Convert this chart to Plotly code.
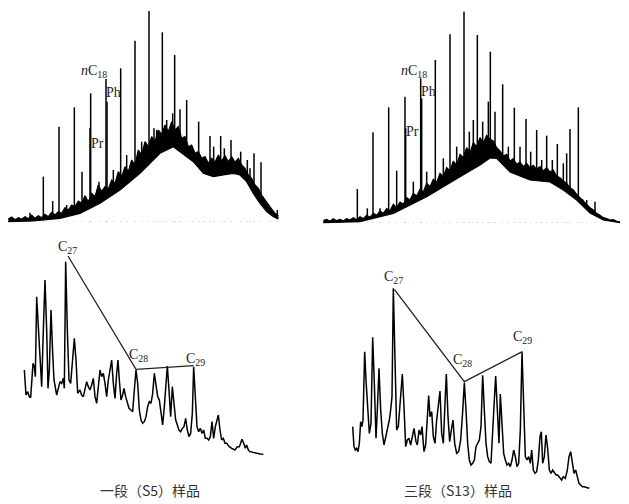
import plotly.graph_objects as go

# ---------------- Top-left: whole-oil GC, 一段 (S5) ----------------
tl_peak_x = [40, 90, 130, 158, 177, 200, 223, 246, 270, 272, 297, 318, 321, 340, 362, 380, 405, 425,
             447, 462, 470, 487, 500, 518, 524, 540, 560, 578, 596, 612, 630, 641, 662, 673, 693, 722,
             742, 750, 762, 783, 810, 832]
tl_peak_h = [10, 27, 135, 62, 285, 50, 343, 150, 280, 385, 120, 428, 360, 155, 460, 200, 543, 240,
             632, 280, 275, 568, 305, 325, 500, 337, 365, 210, 300, 190, 257, 225, 257, 220, 245, 210,
             185, 160, 205, 178, 40, 35]
tl_low_x = [25, 100, 180, 240, 300, 360, 420, 480, 520, 580, 610, 640, 670, 700, 720, 740, 760, 780,
            800, 820, 835]
tl_low_y = [0, 2, 10, 25, 55, 95, 145, 205, 225, 180, 145, 135, 140, 145, 140, 120, 85, 55, 30, 15, 8]
tl_up_x = [25, 35, 45, 55, 65, 75, 85, 95, 105, 115, 125, 135, 145, 155, 165, 175, 185, 195, 205, 215,
           225, 235, 245, 255, 265, 275, 285, 295, 305, 315, 325, 335, 345, 355, 365, 375, 385, 395,
           405, 415, 425, 435, 445, 455, 465, 475, 485, 495, 505, 515, 525, 535, 545, 555, 565, 575,
           585, 595, 605, 615, 625, 635, 645, 655, 665, 675, 685, 695, 705, 715, 725, 735, 745, 755,
           765, 775, 785, 795, 805, 815, 825, 835]
tl_up_y = [8, 14, 6, 12, 7, 15, 9, 20, 10, 18, 12, 22, 15, 28, 20, 30, 25, 42, 35, 50,
           45, 62, 55, 78, 60, 85, 75, 110, 90, 105, 98, 125, 115, 150, 135, 165, 150, 185,
           170, 215, 200, 240, 225, 255, 240, 275, 262, 290, 270, 300, 275, 285, 250, 255, 225, 230,
           205, 210, 190, 195, 175, 190, 178, 200, 182, 198, 180, 195, 178, 190, 170, 160, 140, 130,
           110, 100, 80, 65, 50, 38, 25, 18]

# ---------------- Top-right: whole-oil GC, 三段 (S13) ----------------
tr_peak_x = [172, 202, 219, 240, 266, 290, 315, 317, 340, 362, 365, 380, 406, 430, 450, 470, 492, 508,
             520, 532, 548, 565, 571, 585, 608, 625, 643, 660, 678, 692, 710, 725, 740, 757, 772, 790,
             800, 810, 835, 848, 860, 885]
tr_peak_h = [101, 43, 271, 43, 346, 156, 378, 283, 123, 433, 373, 153, 488, 193, 565, 228, 633, 273,
             308, 563, 303, 363, 513, 333, 415, 228, 345, 228, 311, 213, 278, 188, 261, 188, 236, 178,
             208, 281, 346, 70, 68, 63]
tr_low_x = [70, 180, 280, 380, 480, 540, 570, 590, 630, 690, 750, 790, 830, 870, 910, 960]
tr_low_y = [0, 3, 28, 78, 138, 173, 194, 193, 152, 128, 122, 98, 68, 29, 8, 0]
tr_up_x = [70, 80, 90, 100, 110, 120, 130, 140, 150, 160, 170, 180, 190, 200, 210, 220, 230, 240, 250,
           260, 270, 280, 290, 300, 310, 320, 330, 340, 350, 360, 370, 380, 390, 400, 410, 420, 430,
           440, 450, 460, 470, 480, 490, 500, 510, 520, 530, 540, 550, 560, 570, 580, 590, 600, 610,
           620, 630, 640, 650, 660, 670, 680, 690, 700, 710, 720, 730, 740, 750, 760, 770, 780, 790,
           800, 810, 820, 830, 840, 850, 860, 870, 880, 890, 900, 910, 920, 930, 940, 950, 960]
tr_up_y = [6, 10, 4, 12, 6, 10, 5, 12, 8, 15, 9, 18, 12, 22, 16, 28, 22, 35, 28,
           42, 36, 55, 45, 62, 55, 75, 68, 88, 80, 100, 92, 118, 108, 130, 120, 148, 138,
           165, 155, 185, 172, 205, 195, 225, 210, 240, 228, 255, 240, 262, 250, 245, 225, 215, 200,
           205, 185, 192, 175, 182, 168, 178, 165, 172, 160, 168, 155, 165, 152, 158, 140, 135, 125,
           118, 105, 98, 85, 75, 62, 55, 45, 38, 28, 22, 15, 12, 8, 9, 4, 3]

# ---------------- Bottom-left: sterane m/z 217, 一段 (S5) ----------------
bl_x = [73, 78, 83, 88, 92, 96, 99, 103, 106, 110, 115, 120, 125, 130, 135, 140, 144, 148, 153, 158,
        162, 170, 175, 180, 185, 190, 193, 197, 202, 207, 212, 218, 223, 228, 233, 240, 245, 250, 255,
        260, 265, 270, 275, 280, 285, 290, 295, 300, 305, 310, 315, 320, 325, 330, 335, 340, 345, 350,
        354, 358, 363, 368, 372, 377, 382, 387, 393, 398, 403, 408, 413, 418, 423, 428, 433, 438, 443,
        448, 453, 458, 463, 468, 473, 478, 483, 488, 493, 498, 502, 507, 512, 517, 522, 527, 532, 537,
        542, 547, 552, 557, 562, 567, 572, 577, 581, 586, 591, 596, 601, 606, 611, 616, 621, 626, 631,
        636, 641, 646, 651, 655, 660, 665, 670, 675, 680, 688, 695, 705, 712, 718, 722, 726, 731, 736,
        740, 745, 750, 760, 770, 780, 790]
bl_y = [300, 225, 235, 220, 217, 280, 320, 310, 280, 520, 420, 330, 250, 420, 570, 420, 245, 300, 480,
        350, 270, 225, 250, 265, 260, 275, 245, 625, 420, 270, 260, 340, 395, 330, 230, 240, 225, 220,
        240, 265, 250, 240, 255, 275, 220, 200, 250, 300, 280, 290, 260, 220, 270, 300, 330, 260, 215,
        290, 330, 270, 210, 225, 245, 220, 200, 185, 180, 175, 240, 300, 260, 180, 150, 140, 145, 160,
        190, 205, 200, 230, 290, 260, 220, 210, 170, 135, 190, 270, 312, 240, 160, 250, 200, 150, 135,
        120, 115, 125, 130, 155, 120, 100, 110, 170, 310, 220, 130, 115, 125, 110, 120, 95, 95, 90, 100,
        145, 95, 130, 150, 165, 120, 90, 95, 80, 80, 70, 65, 60, 70, 70, 80, 92, 80, 65, 75, 60, 55, 52,
        50, 48, 47]
bl_ster_x = [204, 408, 581]          # C27, C28, C29 apex positions
bl_ster_y = [642, 302, 313]

# ---------------- Bottom-right: sterane m/z 217, 三段 (S13) ----------------
br_x = [68, 72, 76, 80, 84, 88, 92, 96, 99, 104, 108, 113, 118, 123, 128, 133, 138, 142, 147, 152,
        157, 162, 168, 173, 178, 182, 186, 190, 195, 200, 205, 210, 217, 222, 227, 232, 237, 242, 247,
        252, 258, 262, 267, 272, 276, 282, 287, 292, 296, 300, 305, 310, 315, 320, 325, 330, 335, 340,
        345, 349, 354, 359, 364, 369, 374, 380, 386, 392, 398, 403, 408, 413, 418, 423, 428, 433, 438,
        443, 448, 453, 458, 463, 468, 473, 478, 483, 488, 493, 497, 502, 507, 511, 516, 521, 526, 531,
        536, 541, 546, 551, 556, 561, 566, 571, 576, 581, 586, 591, 596, 601, 605, 610, 615, 620, 625,
        630, 634, 638, 643, 648, 653, 658, 663, 668, 673, 678, 683, 688, 695, 700, 706, 712, 717, 722,
        727, 732, 737, 742, 747, 752, 757, 762, 770, 778]
br_y = [190, 130, 120, 125, 115, 140, 205, 190, 210, 415, 330, 240, 170, 200, 458, 320, 155, 240, 365,
        240, 170, 135, 160, 190, 210, 240, 280, 605, 360, 180, 190, 270, 348, 250, 130, 150, 155, 135,
        160, 185, 145, 135, 180, 165, 190, 115, 135, 220, 283, 220, 235, 160, 140, 210, 250, 297, 170,
        140, 260, 348, 220, 145, 180, 210, 140, 110, 115, 150, 235, 322, 240, 140, 90, 75, 80, 90, 130,
        140, 150, 190, 344, 240, 140, 100, 85, 80, 160, 270, 342, 220, 140, 288, 200, 110, 90, 75, 80,
        70, 90, 120, 100, 70, 80, 180, 415, 220, 100, 90, 100, 80, 120, 60, 50, 55, 90, 160, 175, 80,
        100, 165, 125, 60, 50, 60, 50, 45, 45, 40, 30, 40, 35, 60, 100, 115, 80, 50, 60, 35, 20, 15, 10,
        10, 8, 5]
br_ster_x = [193, 403, 577]
br_ster_y = [602, 325, 415]

captions = ["一段（S5）样品", "三段（S13）样品"]
ster_labels = ["C<sub>27</sub>", "C<sub>28</sub>", "C<sub>29</sub>"]

W, H = 629, 504
fig = go.Figure()

def ax_dom(x0, x1, y0, y1):
    return [x0 / W, x1 / W], [1 - y1 / H, 1 - y0 / H]

panels = {
    1: dict(px=(0, 290), py=(0, 225), xr=[0, 870], yr=[-10, 665]),
    2: dict(px=(300, 629), py=(0, 225), xr=[0, 987], yr=[-7, 668]),
    3: dict(px=(0, 290), py=(230, 470), xr=[0, 870], yr=[0, 720]),
    4: dict(px=(330, 629), py=(230, 490), xr=[0, 897], yr=[0, 780]),
}
for i, p in panels.items():
    dx, dy = ax_dom(p["px"][0], p["px"][1], p["py"][0], p["py"][1])
    sfx = "" if i == 1 else str(i)
    fig.update_layout(**{
        "xaxis" + sfx: dict(domain=dx, range=p["xr"], visible=False, fixedrange=True,
                            anchor="y" + sfx),
        "yaxis" + sfx: dict(domain=dy, range=p["yr"], visible=False, fixedrange=True,
                            anchor="x" + sfx),
    })

def gc_panel(idx, px, ph, lx, ly, ux, uy):
    xa = "x" if idx == 1 else "x%d" % idx
    ya = "y" if idx == 1 else "y%d" % idx
    sx, sy = [], []
    for x, h in zip(px, ph):
        sx += [x, x, None]
        sy += [0, h, None]
    fig.add_trace(go.Scatter(x=sx, y=sy, mode="lines", line=dict(color="black", width=1.5),
                             xaxis=xa, yaxis=ya, hoverinfo="skip", showlegend=False))
    fig.add_trace(go.Scatter(x=lx, y=ly, mode="lines", line=dict(color="black", width=1.2),
                             fill="tozeroy", fillcolor="white",
                             xaxis=xa, yaxis=ya, hoverinfo="skip", showlegend=False))
    fig.add_trace(go.Scatter(x=ux, y=uy, mode="lines", line=dict(color="black", width=1.2),
                             fill="tonexty", fillcolor="black",
                             xaxis=xa, yaxis=ya, hoverinfo="skip", showlegend=False))

gc_panel(1, tl_peak_x, tl_peak_h, tl_low_x, tl_low_y, tl_up_x, tl_up_y)
gc_panel(2, tr_peak_x, tr_peak_h, tr_low_x, tr_low_y, tr_up_x, tr_up_y)

def ster_panel(idx, x, y, sx, sy):
    xa, ya = "x%d" % idx, "y%d" % idx
    fig.add_trace(go.Scatter(x=x, y=y, mode="lines", line=dict(color="black", width=1.5),
                             xaxis=xa, yaxis=ya, hoverinfo="skip", showlegend=False))
    fig.add_trace(go.Scatter(x=sx, y=sy, mode="lines", line=dict(color="#222", width=1.3),
                             xaxis=xa, yaxis=ya, hoverinfo="skip", showlegend=False))

ster_panel(3, bl_x, bl_y, bl_ster_x, bl_ster_y)
ster_panel(4, br_x, br_y, br_ster_x, br_ster_y)

serif = "Liberation Serif, Times New Roman, serif"
ann = []
def lab(text, x, y, idx, size=14):
    xa = "x" if idx == 1 else "x%d" % idx
    ya = "y" if idx == 1 else "y%d" % idx
    ann.append(dict(text=text, x=x, y=y, xref=xa, yref=ya, showarrow=False,
                    xanchor="center", yanchor="middle",
                    font=dict(family=serif, size=size, color="#222")))

lab("<i>n</i>C<sub>18</sub>", 282, 452, 1)
lab("Ph", 340, 389, 1)
lab("Pr", 291, 235, 1)
lab("<i>n</i>C<sub>18</sub>", 342, 455, 2)
lab("Ph", 384, 395, 2)
lab("Pr", 336, 274, 2)
for t, x, y in zip(ster_labels, [201, 414, 585], [666, 345, 333]):
    lab(t, x, y, 3)
for t, x, y in zip(ster_labels, [190, 397, 577], [638, 388, 458]):
    lab(t, x, y, 4)

for t, cx in zip(captions, [150, 458]):
    ann.append(dict(text=t, x=cx / W, y=1 - 490 / H, xref="paper", yref="paper",
                    xanchor="center", yanchor="middle", showarrow=False,
                    font=dict(family="Noto Sans CJK SC", size=14, color="#333")))

fig.update_layout(width=W, height=H, margin=dict(l=0, r=0, t=0, b=0),
                  paper_bgcolor="white", plot_bgcolor="white", annotations=ann)
fig.write_html("out.html", config={"displayModeBar": False},
               post_script="document.body.style.margin='0';document.body.style.padding='0';")
